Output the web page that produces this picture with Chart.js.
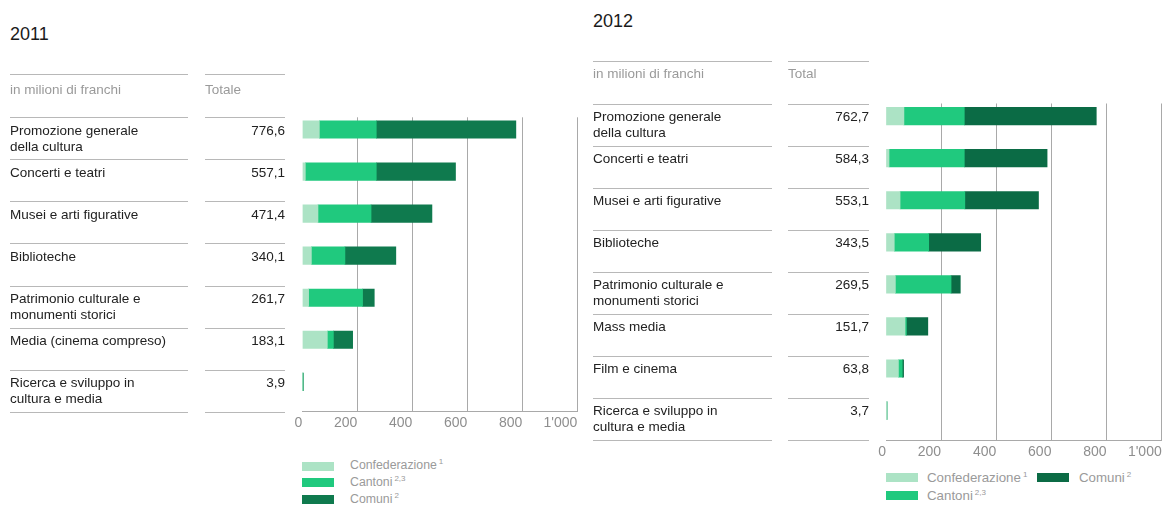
<!DOCTYPE html>
<html>
<head>
<meta charset="utf-8">
<script src="https://cdn.jsdelivr.net/npm/chart.js@4.4.1/dist/chart.umd.min.js"></script>
<style>
  html, body { margin: 0; padding: 0; overflow: hidden; background: #fff; }
  body { width: 1163px; height: 505px; position: relative; font-family: "Liberation Sans", Arial, sans-serif; }
  .abs { position: absolute; white-space: nowrap; }
  .line { position: absolute; height: 1px; background: #b8b8b8; }
  .title { font-size: 18px; line-height: 20px; color: #1a1a1a; }
  .head { font-size: 13.5px; line-height: 16px; color: #9a9a9a; }
  .lab { font-size: 13.5px; line-height: 16px; color: #222; }
  .tot { font-size: 13.5px; line-height: 16px; color: #222; text-align: right; }
  .sw { position: absolute; width: 32px; height: 9px; }
  .leg { color: #9a9a9a; }
  .sup { font-size: 8px; position: relative; top: -5px; margin-left: 2px; }
  canvas { position: absolute; }
</style>
</head>
<body>
<canvas id="c2011" width="300" height="340" style="left:282px;top:100px;width:300px;height:340px"></canvas>
<canvas id="c2012" width="297" height="380" style="left:866px;top:90px;width:297px;height:380px"></canvas>
<script>
// ---------- data ----------
const seriesNames = ['Confederazione', 'Cantoni', 'Comuni'];
const seriesNotes = ['1', '2,3', '2'];

const cats2011 = [
  ['Promozione generale', 'della cultura'],
  ['Concerti e teatri'],
  ['Musei e arti figurative'],
  ['Biblioteche'],
  ['Patrimonio culturale e', 'monumenti storici'],
  ['Media (cinema compreso)'],
  ['Ricerca e sviluppo in', 'cultura e media']
];
const totals2011 = [776.6, 557.1, 471.4, 340.1, 261.7, 183.1, 3.9];
const conf2011 = [62, 11, 57, 33, 23, 91, 0.3];
const cant2011 = [207, 258, 193, 122, 196, 22, 2.0];
const com2011  = [507.6, 288.1, 221.4, 185.1, 42.7, 70.1, 1.6];

const cats2012 = [
  ['Promozione generale', 'della cultura'],
  ['Concerti e teatri'],
  ['Musei e arti figurative'],
  ['Biblioteche'],
  ['Patrimonio culturale e', 'monumenti storici'],
  ['Mass media'],
  ['Film e cinema'],
  ['Ricerca e sviluppo in', 'cultura e media']
];
const totals2012 = [762.7, 584.3, 553.1, 343.5, 269.5, 151.7, 63.8, 3.7];
const conf2012 = [65, 11, 51, 30, 34, 69, 45, 3.7];
const cant2012 = [219, 273, 235, 125, 202, 5, 14, 0];
const com2012  = [478.7, 300.3, 267.1, 188.5, 33.5, 77.7, 4.8, 0];

const xTicks = [0, 200, 400, 600, 800, 1000];
const xTickLabels = ['0', '200', '400', '600', '800', "1'000"];

// ---------- helpers ----------
const FONT = '"Liberation Sans", Arial, sans-serif';
const LIGHT = '#ace3c5', MID = '#20c97e';

function el(cls, left, top, html, extra) {
  const d = document.createElement('div');
  d.className = cls;
  d.style.left = left + 'px';
  d.style.top = top + 'px';
  if (extra) Object.assign(d.style, extra);
  d.innerHTML = html;
  document.body.appendChild(d);
  return d;
}
function hline(x, y, w) {
  el('line', x, Math.round(y), '', { width: w + 'px' });
}
const fmt = v => v.toFixed(1).replace('.', ',');

function table(p) {
  el('abs title', p.x, p.titleTop, p.title);
  hline(p.x, p.headLine, p.labW);
  hline(p.totX, p.headLine, p.totW);
  el('abs head', p.x, p.headTextTop, 'in milioni di franchi');
  el('abs head', p.totX, p.headTextTop, p.totHead);
  for (let i = 0; i <= p.cats.length; i++) {
    const y = p.rowTop + i * p.rowH;
    hline(p.x, y, p.labW);
    hline(p.totX, y, p.totW);
    if (i < p.cats.length) {
      el('abs lab', p.x, y + 5.3, p.cats[i].join('<br>'));
      el('abs tot', p.totX, y + 5.3, fmt(p.totals[i]), { width: p.totW + 'px' });
    }
  }
}

function legendItem(x, y, color, name, note, fs, gap) {
  const s = document.createElement('div');
  s.className = 'sw';
  s.style.left = x + 'px';
  s.style.top = y + 'px';
  s.style.background = color;
  document.body.appendChild(s);
  el('abs leg', x + gap, y - 3.5, name + '<span class="sup">' + note + '</span>',
     { fontSize: fs + 'px', lineHeight: '15px' });
}

function makeChart(id, conf, cant, com, dark, yFrac, pad, xH, tickLen) {
  const n = conf.length;
  const idx = conf.map((_, i) => i);
  const series = [conf, cant, com];
  const colors = [LIGHT, MID, dark];
  new Chart(document.getElementById(id), {
    type: 'bar',
    data: {
      datasets: series.map((vals, k) => ({
        label: seriesNames[k],
        data: idx.map(i => ({ x: vals[i], y: i })),
        backgroundColor: colors[k],
        borderWidth: 0,
        barThickness: 17.5
      }))
    },
    options: {
      indexAxis: 'y',
      responsive: false,
      animation: false,
      events: [],
      layout: { padding: pad },
      plugins: { legend: { display: false }, tooltip: { enabled: false } },
      scales: {
        x: {
          type: 'linear',
          stacked: true,
          min: 0, max: 1000,
          afterBuildTicks: s => { s.ticks = xTicks.map(v => ({ value: v })); },
          afterFit: s => { s.height = xH; },
          ticks: {
            align: 'end',
            padding: 0,
            color: '#8e8e8e',
            font: { family: FONT, size: 14 },
            callback: (v) => xTickLabels[xTicks.indexOf(v)]
          },
          grid: {
            drawTicks: true,
            tickLength: tickLen,
            tickColor: 'rgba(0,0,0,0)',
            lineWidth: 1,
            color: ctx => (ctx.tick && ctx.tick.value === 0) ? 'rgba(0,0,0,0)' : '#a9a9a9'
          },
          border: { display: true, color: '#a9a9a9', width: 1 }
        },
        y: {
          type: 'linear',
          stacked: true,
          reverse: true,
          offset: false,
          bounds: 'data',
          min: -yFrac,
          max: n - yFrac,
          display: false
        }
      }
    }
  });
}

// ---------- 2011 ----------
table({
  title: '2011', x: 10, titleTop: 23.8, labW: 178, totX: 205, totW: 80,
  headLine: 74, headTextTop: 81.6, totHead: 'Totale',
  rowTop: 117.3, rowH: 42.06, cats: cats2011, totals: totals2011
});
makeChart('c2011', conf2011, cant2011, com2011, '#0f7a4e', 0.29,
  { left: 20.3, top: 17.3, right: 4.7, bottom: 0 }, 28.3, 3.2);
legendItem(302, 461.7, LIGHT, 'Confederazione', seriesNotes[0], 12.3, 48);
legendItem(302, 478.3, MID, 'Cantoni', seriesNotes[1], 12.3, 48);
legendItem(302, 495, '#0f7a4e', 'Comuni', seriesNotes[2], 12.3, 48);

// ---------- 2012 ----------
table({
  title: '2012', x: 593, titleTop: 11, labW: 179, totX: 788, totW: 81,
  headLine: 61, headTextTop: 65.6, totHead: 'Total',
  rowTop: 103.7, rowH: 42.04, cats: cats2012, totals: totals2012
});
makeChart('c2012', conf2012, cant2012, com2012, '#0b6b45', 0.30,
  { left: 20, top: 13.5, right: 1.3, bottom: 0 }, 30, 3.6);
legendItem(886, 473.3, LIGHT, 'Confederazione', seriesNotes[0], 13.3, 41);
legendItem(1037, 473.3, '#0b6b45', 'Comuni', seriesNotes[2], 13.3, 42);
legendItem(886, 491, MID, 'Cantoni', seriesNotes[1], 13.3, 41);
</script>
</body>
</html>
